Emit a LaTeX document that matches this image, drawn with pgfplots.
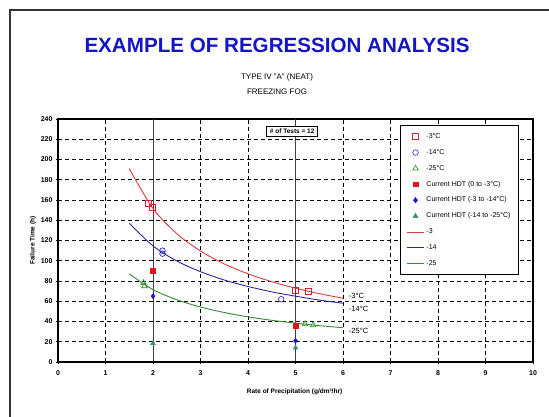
\documentclass[border=0pt]{standalone}
\usepackage{fontspec}
\setmainfont{Liberation Sans}
\usepackage{pgfplots}
\pgfplotsset{compat=1.18}
\usepackage{xcolor}
\definecolor{sqred}{RGB}{200,40,40}
\definecolor{curvered}{RGB}{220,60,60}
\definecolor{circblue}{RGB}{40,40,200}
\definecolor{curveblue}{RGB}{40,40,160}
\definecolor{trigreen}{RGB}{40,150,40}
\definecolor{curvegreen}{RGB}{50,140,50}
\definecolor{hdtred}{RGB}{225,20,20}
\definecolor{hdtblue}{RGB}{20,20,220}
\definecolor{hdtgreen}{RGB}{60,140,110}
\definecolor{titleblue}{RGB}{20,20,200}

\begin{document}
\begin{tikzpicture}
\useasboundingbox (0,0) rectangle (549pt,-416pt);
% page frame
\draw[line width=1.2pt, black!80] (10pt,-430pt) -- (10pt,-10pt) -- (560pt,-10pt);
% titles
\node[font=\fontsize{20.6}{22}\selectfont\bfseries, text=titleblue] at (277pt,-45pt) {EXAMPLE OF REGRESSION ANALYSIS};
\node[font=\fontsize{8}{9}\selectfont] at (277pt,-77pt) {TYPE IV "A" (NEAT)};
\node[font=\fontsize{8}{9}\selectfont] at (277pt,-92pt) {FREEZING FOG};

\begin{axis}[
  scale only axis,
  width=475pt, height=243pt,
  at={(58pt,-362pt)}, anchor=south west,
  xmin=0, xmax=10, ymin=0, ymax=240,
  xtick={0,1,...,10},
  ytick={0,20,...,240},
  /pgf/number format/assume math mode=true,
  tick label style={font=\fontsize{7}{8}\selectfont\bfseries},
  xticklabel style={yshift=-3pt},
  grid=major,
  major grid style={black, line width=0.7pt, dash pattern=on 4pt off 3pt},
  axis line style={black, line width=1.2pt},
  tick style={black, line width=0.8pt},
  tick align=center, tick pos=left,
  major tick length=4pt,
  xlabel={Rate of Precipitation (g/dm²/hr)},
  ylabel={Failure Time (h)},
  label style={font=\fontsize{6.5}{7}\selectfont\bfseries},
  xlabel style={at={(axis description cs:0.498,-0.123)}, anchor=center},
  ylabel style={at={(axis description cs:-0.053,0.5)}, anchor=center},
  legend cell align=left,
  legend style={at={(rel axis cs:0.72,0.975)}, anchor=north west,
    draw=black, line width=1pt, font=\fontsize{7}{8}\selectfont,
    row sep=5.4pt, inner xsep=6pt, inner ysep=6pt},
  every axis legend/.append style={/tikz/every mark/.append style={line width=0.6pt}},
]
% vertical reference lines
\addplot[black!75, line width=0.9pt, forget plot] coordinates {(2,0) (2,240)};
\addplot[black!75, line width=0.9pt, forget plot] coordinates {(5,0) (5,240)};
\draw[black, line width=2pt] (rel axis cs:0,0) -- (rel axis cs:1,0);

% test points
\addplot[only marks, mark=square, mark size=3pt, sqred, line width=0.7pt]
  coordinates {(1.9,157) (1.99,153) (4.99,70.5) (5.27,70)};
\addlegendentry{-3°C}
\addplot[only marks, mark=o, mark size=2.8pt, circblue, line width=0.7pt]
  coordinates {(2.2,110) (2.2,107) (4.7,62)};
\addlegendentry{-14°C}
\addplot[only marks, mark=triangle, mark size=3.2pt, trigreen, line width=0.7pt]
  coordinates {(1.8,78) (1.82,75) (5.2,37.5) (5.37,36.5)};
\addlegendentry{-25°C}
\addplot[only marks, mark=square*, mark size=2.4pt, hdtred]
  coordinates {(2,90) (5,35.5)};
\addlegendentry{Current HDT (0 to -3°C)}
\addplot[only marks, mark=diamond*, mark size=2.6pt, hdtblue]
  coordinates {(2,65) (5,21)};
\addlegendentry{Current HDT (-3 to -14°C)}
\addplot[only marks, mark=triangle*, mark size=2.8pt, hdtgreen]
  coordinates {(2,18.5) (5,14)};
\addlegendentry{Current HDT (-14 to -25°C)}

% regression curves
\addplot[curvered, line width=0.9pt, smooth, no marks] coordinates {
  (1.5,191) (2,151.6) (2.5,126.8) (3,109.6) (3.5,96.9) (4,87.1)
  (4.5,79.3) (5,72.9) (5.5,67.5) (6,63.0)};
\addlegendentry{-3}
\addplot[curveblue, line width=0.9pt, smooth, no marks] coordinates {
  (1.5,137) (2,114.7) (2.5,99.8) (3,89.2) (3.5,81.0) (4,74.6)
  (4.5,69.3) (5,65.0) (5.5,61.2) (6,58.0)};
\addlegendentry{-14}
\addplot[curvegreen, line width=0.9pt, smooth, no marks] coordinates {
  (1.5,87) (2,71.5) (2.5,61.5) (3,54.3) (3.5,48.9) (4,44.6)
  (4.5,41.2) (5,38.4) (5.5,35.9) (6,33.9)};
\addlegendentry{-25}

% curve labels
\node[anchor=west, font=\fontsize{7.5}{8}\selectfont, fill=white, inner sep=1pt] at (axis cs:6.1,65) {-3°C};
\node[anchor=west, font=\fontsize{7.5}{8}\selectfont, fill=white, inner sep=1pt] at (axis cs:6.1,52) {-14°C};
\node[anchor=west, font=\fontsize{7.5}{8}\selectfont, fill=white, inner sep=1pt] at (axis cs:6.1,30.5) {-25°C};
% test count box
\node[draw=black, line width=0.9pt, fill=white, font=\fontsize{6.5}{7}\selectfont\bfseries,
  inner xsep=3pt, inner ysep=2.5pt] at (axis cs:4.93,228) {\# of Tests = 12};
\end{axis}
\end{tikzpicture}
\end{document}
